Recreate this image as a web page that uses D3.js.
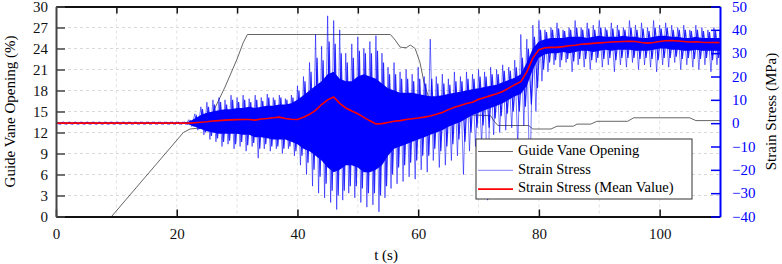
<!DOCTYPE html>
<html>
<head>
<meta charset="utf-8">
<script src="https://cdn.jsdelivr.net/npm/d3@7"></script>
<style>
  body { margin: 0; background: #fff; }
  svg { display: block; font-family: "Liberation Serif", "Times New Roman", serif; }
</style>
</head>
<body>
<div id="chart"></div>
<script>
// Guide vane opening (%)
const vaneTime  = [9.2, 21.1, 22.2, 24.4, 25.5, 28, 30, 31, 31.7, 55.4, 56.2, 57, 58, 58.7, 59.5, 60.3, 61, 62, 63, 65, 69, 72, 72.6, 73.2, 78.3, 79, 82, 83, 85.7, 86.3, 88.6, 89.6, 94.7, 95.7, 105, 106, 110];
const vaneValue = [0, 12.0, 12.5, 12.7, 14.0, 18.5, 22.5, 24.8, 26, 26, 25.2, 24.2, 24.1, 24.5, 24.0, 22.0, 19.0, 16.3, 15.3, 14.8, 14.5, 14.4, 13.6, 13.0, 13.0, 12.5, 12.5, 12.9, 12.9, 13.2, 13.2, 13.6, 13.6, 14.1, 14.1, 13.7, 13.7];

// Strain stress (MPa), sampled once per second from t = 0 to 110 s
const stressTime = d3.range(0, 111);
const stressMean = [
  0, 0, 0, 0, 0, 0, 0, 0, 0, 0, 0, 0, 0, 0, 0, 0, 0, 0, 0, 0, 0, 0, 0,
  0.2, 0.4, 0.6, 0.9, 1.1, 1.3, 1.4, 1.5, 1.6, 1.6, 1.3, 1.8, 2.0, 2.3, 2.6, 2.0, 1.7, 1.6,
  2.5, 3.8, 5.5, 8.0, 10.0, 11.2, 8.5, 6.5, 5.2, 4.0, 2.5, 1.0, -0.3, -0.2, 0.3, 0.8, 1.1, 1.6, 1.9, 2.2,
  2.6, 3.1, 3.8, 4.6, 5.8, 6.8, 7.6, 8.4, 9.0, 10.2, 11.0, 11.8, 12.6, 13.6, 15.0, 16.5, 17.8, 22.0, 28.0, 31.5,
  32.3, 32.5, 32.5, 32.8, 33.2, 33.4, 33.8, 34.0, 34.2, 34.4, 34.6, 34.8, 34.9, 35.0, 35.1, 35.0, 34.6, 34.3, 34.6, 35.0,
  35.3, 35.4, 35.2, 35.0, 34.8, 34.9, 34.7, 34.6, 34.6, 34.5
];
// solid band of the raw signal
const stressCoreHigh = [
  0.3, 0.3, 0.3, 0.3, 0.3, 0.3, 0.3, 0.3, 0.3, 0.3, 0.3, 0.3, 0.3, 0.3, 0.3, 0.3, 0.3, 0.3, 0.3, 0.3, 0.3, 0.3, 0.6,
  2, 3.5, 4.5, 5, 5.5, 6, 6, 6.5, 6.5, 7, 6.5, 7, 7.5, 7.5, 8, 8, 8.5, 10,
  12, 14, 16, 18, 21, 22, 19, 18, 18, 20, 21, 20, 19, 17, 15, 14, 13, 13, 13, 12.5,
  12, 11.5, 11.5, 12, 12.5, 13, 13.5, 14, 14.5, 15, 15.5, 16, 16.5, 17.5, 18.5, 19.5, 21, 26, 32, 35,
  36, 36.5, 36.5, 36.5, 37, 37, 37, 36.5, 37, 37.5, 37, 37, 37, 37.5, 37, 37, 36.5, 36.5, 37, 37.5,
  37.5, 37, 37, 36.5, 36.5, 37, 36.5, 36.5, 36.5, 36.5
];
const stressCoreLow = [
  -0.3, -0.3, -0.3, -0.3, -0.3, -0.3, -0.3, -0.3, -0.3, -0.3, -0.3, -0.3, -0.3, -0.3, -0.3, -0.3, -0.3, -0.3, -0.3, -0.3, -0.3, -0.3, -0.6,
  -1.5, -2.5, -3.5, -4, -4.5, -4.5, -4.5, -4.5, -5, -5, -6, -6, -6.5, -7, -7, -7, -8, -9,
  -11, -12, -14, -16, -19, -21, -20, -18, -18, -19, -21, -21, -20, -18, -14, -11, -10, -9, -8, -7,
  -6, -5, -4, -3, -1.5, -0.5, 0.5, 2, 3.5, 4.5, 5.5, 6.5, 7.5, 8.5, 10, 11.5, 12.5, 16, 23, 28,
  29.5, 30, 30, 30.5, 30, 30.5, 31, 31, 30.5, 31, 31.5, 31, 31.5, 31.5, 31.5, 31, 31, 31, 31.5, 32,
  32, 31.5, 31.5, 31, 31, 31.5, 31, 31, 31, 31
];
// typical oscillation amplitude around the band
const stressMidHigh = [
  0.4, 0.4, 0.4, 0.4, 0.4, 0.4, 0.4, 0.4, 0.4, 0.4, 0.4, 0.4, 0.4, 0.4, 0.4, 0.4, 0.4, 0.4, 0.4, 0.4, 0.4, 0.4, 1.0,
  3, 6, 7, 8, 9, 8, 10, 9, 10, 9, 10, 9.5, 11, 10, 11, 10, 11, 14,
  18, 22, 28, 27, 35, 34, 30, 26, 28, 31, 30, 30, 31, 26, 21, 21, 19, 19, 18, 19,
  17, 19, 17, 17, 16.5, 18, 18, 19, 19, 20, 20, 21, 21, 22.5, 22.5, 24, 28, 32, 37, 40,
  39, 40, 40.5, 39.5, 40, 41, 40, 40.5, 40, 41, 40, 40.5, 40, 40, 41, 40, 40.5, 39.5, 41, 40.5,
  41, 40, 40, 40, 39.5, 40, 39.5, 39, 39.5, 39
];
const stressMidLow = [
  -0.4, -0.4, -0.4, -0.4, -0.4, -0.4, -0.4, -0.4, -0.4, -0.4, -0.4, -0.4, -0.4, -0.4, -0.4, -0.4, -0.4, -0.4, -0.4, -0.4, -0.4, -0.4, -1.0,
  -2.5, -4, -5.5, -6.5, -8, -7.5, -9, -8, -9.5, -8.5, -11, -9, -10, -10, -11, -10, -12, -14,
  -17, -20, -23, -26, -29, -31, -29, -27, -27, -28, -30, -30, -31, -27, -22, -19, -18, -17, -16, -14,
  -14, -11, -12, -10, -9, -7, -8, -4, -2, -1, -2, 2, 3, 4, 5, 5, 7, 8, 15, 23,
  26, 27, 27, 27.5, 26.5, 27.5, 27.5, 27, 28, 27.5, 28, 27, 28, 28, 28, 27.5, 28, 27.5, 27, 28,
  28, 28.5, 27.5, 28, 27.5, 27.5, 28, 27, 28, 27.5
];
// outer spikes of the raw signal
const stressPeakHigh = [
  0.5, 0.5, 0.5, 0.5, 0.5, 0.5, 0.5, 0.5, 0.5, 0.5, 0.5, 0.5, 0.5, 0.5, 0.5, 0.5, 0.5, 0.5, 0.5, 0.5, 0.5, 0.5, 1.5,
  4, 7, 9, 10, 11, 10, 12, 11, 12, 10.5, 12, 11, 12.5, 11, 12, 10.5, 12, 16,
  20, 26, 38, 33, 46, 44, 40, 30, 34, 37, 32, 35, 37.5, 30, 24, 26, 22, 23, 21, 24,
  20, 36, 20, 21, 19, 22, 20, 22, 21, 23, 22, 24, 23, 25, 24, 27, 38, 36, 42, 44,
  40, 41, 43, 40, 41, 44, 41, 43, 42, 44, 41, 43, 42, 41, 44, 42, 43, 41, 44, 42,
  43, 42, 41, 42, 40, 42, 41, 40, 41, 40
];
const stressPeakLow = [
  -0.5, -0.5, -0.5, -0.5, -0.5, -0.5, -0.5, -0.5, -0.5, -0.5, -0.5, -0.5, -0.5, -0.5, -0.5, -0.5, -0.5, -0.5, -0.5, -0.5, -0.5, -0.5, -1.5,
  -3, -5, -7, -8, -10, -9, -11, -10, -12, -10, -15, -11, -12, -11, -13, -11, -14, -18,
  -22, -27, -30, -32, -34, -37, -33, -30, -32, -34, -36, -35, -38, -32, -28, -26, -25, -23, -24, -20,
  -21, -16, -19, -18, -16, -14, -22, -12, -10, -9, -33, -5, -4, -3, -2, -10, -1, -30, 5, 18,
  22, 25, 24, 26, 22, 25, 24, 23, 26, 24, 25, 22, 25, 24, 26, 23, 25, 24, 22, 25,
  24, 26, 23, 25, 24, 23, 25, 22, 25, 24
];

// axis ticks
const timeTicks = [0, 20, 40, 60, 80, 100];
const timeGrid = [10, 20, 30, 40, 50, 60, 70, 80, 90, 100];
const vaneTicks = [0, 3, 6, 9, 12, 15, 18, 21, 24, 27, 30];
const stressTicks = [-40, -30, -20, -10, 0, 10, 20, 30, 40, 50];

const legendLabels = ["Guide Vane Opening", "Strain Stress", "Strain Stress (Mean Value)"];

const W = 782, H = 264;
const margin = { top: 6.5, right: 62, bottom: 47.5, left: 56 };
const iw = W - margin.left - margin.right;
const ih = H - margin.top - margin.bottom;

const svg = d3.select("#chart").append("svg")
    .attr("width", W)
    .attr("height", H);

const g = svg.append("g")
    .attr("transform", `translate(${margin.left},${margin.top})`);

const x = d3.scaleLinear().domain([0, 110]).range([0, iw]);
const yL = d3.scaleLinear().domain([0, 30]).range([ih, 0]);
const yR = d3.scaleLinear().domain([-40, 50]).range([ih, 0]);

svg.append("defs").append("clipPath").attr("id", "plotClip")
    .append("rect").attr("width", iw).attr("height", ih);

// grid
g.append("g").selectAll("line").data(vaneTicks.slice(1, -1)).join("line")
    .attr("x1", 0).attr("x2", iw)
    .attr("y1", d => yL(d)).attr("y2", d => yL(d))
    .attr("stroke", "#d9d9d9").attr("stroke-dasharray", "3,3");
g.append("g").selectAll("line").data(timeGrid).join("line")
    .attr("x1", d => x(d)).attr("x2", d => x(d))
    .attr("y1", 0).attr("y2", ih)
    .attr("stroke", "#e2e2e2").attr("stroke-dasharray", "3,3");

const plot = g.append("g").attr("clip-path", "url(#plotClip)");

// guide vane opening
plot.append("path")
    .datum(vaneTime.map((t, i) => [t, vaneValue[i]]))
    .attr("fill", "none")
    .attr("stroke", "#666")
    .attr("stroke-width", 1)
    .attr("d", d3.line().x(d => x(d[0])).y(d => yL(d[1])));

// raw strain stress: outer spikes, oscillation, solid band
const stressLine = d3.line().x(d => x(d[0])).y(d => yR(d[1]));

function zigzag(high, low, offset) {
    const pts = [];
    stressTime.forEach((t, i) => {
        pts.push([t + offset, high[i]]);
        pts.push([t + offset + 0.5, low[i]]);
    });
    return pts;
}

plot.append("path")
    .datum(zigzag(stressPeakHigh, stressPeakLow, 0))
    .attr("fill", "none")
    .attr("stroke", "#0000ff")
    .attr("stroke-opacity", 0.55)
    .attr("stroke-width", 1)
    .attr("d", stressLine);

plot.append("path")
    .datum(zigzag(stressMidHigh, stressMidLow, 0.25))
    .attr("fill", "none")
    .attr("stroke", "#0000ff")
    .attr("stroke-opacity", 0.85)
    .attr("stroke-width", 1.2)
    .attr("d", stressLine);

plot.append("path")
    .datum(stressTime.map((t, i) => ({ t: t, hi: stressCoreHigh[i], lo: stressCoreLow[i] })))
    .attr("fill", "#0000ff")
    .attr("d", d3.area().x(d => x(d.t)).y0(d => yR(d.lo)).y1(d => yR(d.hi)));

// mean value
plot.append("path")
    .datum(stressTime.map((t, i) => [t, stressMean[i]]))
    .attr("fill", "none")
    .attr("stroke", "#ff0000")
    .attr("stroke-width", 1.6)
    .attr("d", stressLine);

// axes
const bottomAxis = g.append("g")
    .attr("transform", `translate(0,${ih})`)
    .call(d3.axisBottom(x).tickValues(timeTicks).tickSizeInner(-7).tickSizeOuter(0).tickPadding(12));
const topAxis = g.append("g")
    .call(d3.axisTop(x).tickValues(timeGrid).tickSizeInner(-7).tickSizeOuter(0).tickFormat(""));
const leftAxis = g.append("g")
    .call(d3.axisLeft(yL).tickValues(vaneTicks).tickSizeInner(-9).tickSizeOuter(0).tickPadding(17));
const rightAxis = g.append("g")
    .attr("transform", `translate(${iw},0)`)
    .call(d3.axisRight(yR).tickValues(stressTicks).tickSizeInner(-9).tickSizeOuter(0).tickPadding(12));

[bottomAxis, topAxis].forEach(a => {
    a.select(".domain").attr("stroke", "#111").attr("stroke-width", 2);
    a.selectAll(".tick line").attr("stroke", "#111").attr("stroke-width", 1.5);
});
leftAxis.select(".domain").attr("stroke", "#444").attr("stroke-width", 2);
leftAxis.selectAll(".tick line").attr("stroke", "#444").attr("stroke-width", 1.5);
rightAxis.select(".domain").attr("stroke", "#0000ff").attr("stroke-width", 2);
rightAxis.selectAll(".tick line").attr("stroke", "#0000ff").attr("stroke-width", 1.5);

[bottomAxis, leftAxis].forEach(a => {
    a.selectAll("text")
        .style("font-family", "Liberation Serif, serif")
        .style("font-size", "15px")
        .attr("fill", "#111");
});
rightAxis.selectAll("text")
    .style("font-family", "Liberation Serif, serif")
    .style("font-size", "15px")
    .attr("fill", "#0000ff");
leftAxis.selectAll(".tick text").attr("x", -8);
rightAxis.selectAll(".tick text").attr("x", 12);

// axis titles
svg.append("text")
    .attr("x", margin.left + x(55) - 2)
    .attr("y", 257)
    .attr("text-anchor", "middle")
    .attr("dominant-baseline", "middle")
    .style("font-size", "15px")
    .text("t (s)");
svg.append("text")
    .attr("transform", `translate(12,${margin.top + ih / 2}) rotate(-90)`)
    .attr("text-anchor", "middle")
    .attr("dominant-baseline", "middle")
    .style("font-size", "15px")
    .text("Guide Vane Opening (%)");
svg.append("text")
    .attr("transform", `translate(773,${margin.top + ih / 2}) rotate(-90)`)
    .attr("text-anchor", "middle")
    .attr("dominant-baseline", "middle")
    .style("font-size", "15px")
    .text("Strain Stress (MPa)");

// legend
const legend = svg.append("g").attr("transform", "translate(476,139)");
legend.append("rect")
    .attr("width", 216).attr("height", 60)
    .attr("fill", "#fff").attr("stroke", "#333").attr("stroke-width", 1);
const legendStyle = [
    { color: "#666", width: 1, opacity: 1 },
    { color: "#0000ff", width: 1, opacity: 0.5 },
    { color: "#ff0000", width: 1.6, opacity: 1 }
];
legendLabels.forEach((label, i) => {
    const cy = 12.5 + i * 18.8;
    legend.append("line")
        .attr("x1", 2).attr("x2", 37)
        .attr("y1", cy).attr("y2", cy)
        .attr("stroke", legendStyle[i].color)
        .attr("stroke-width", legendStyle[i].width)
        .attr("stroke-opacity", legendStyle[i].opacity);
    legend.append("text")
        .attr("x", 42).attr("y", cy)
        .attr("dominant-baseline", "middle")
        .style("font-size", "14.5px")
        .text(label);
});
</script>
</body>
</html>
